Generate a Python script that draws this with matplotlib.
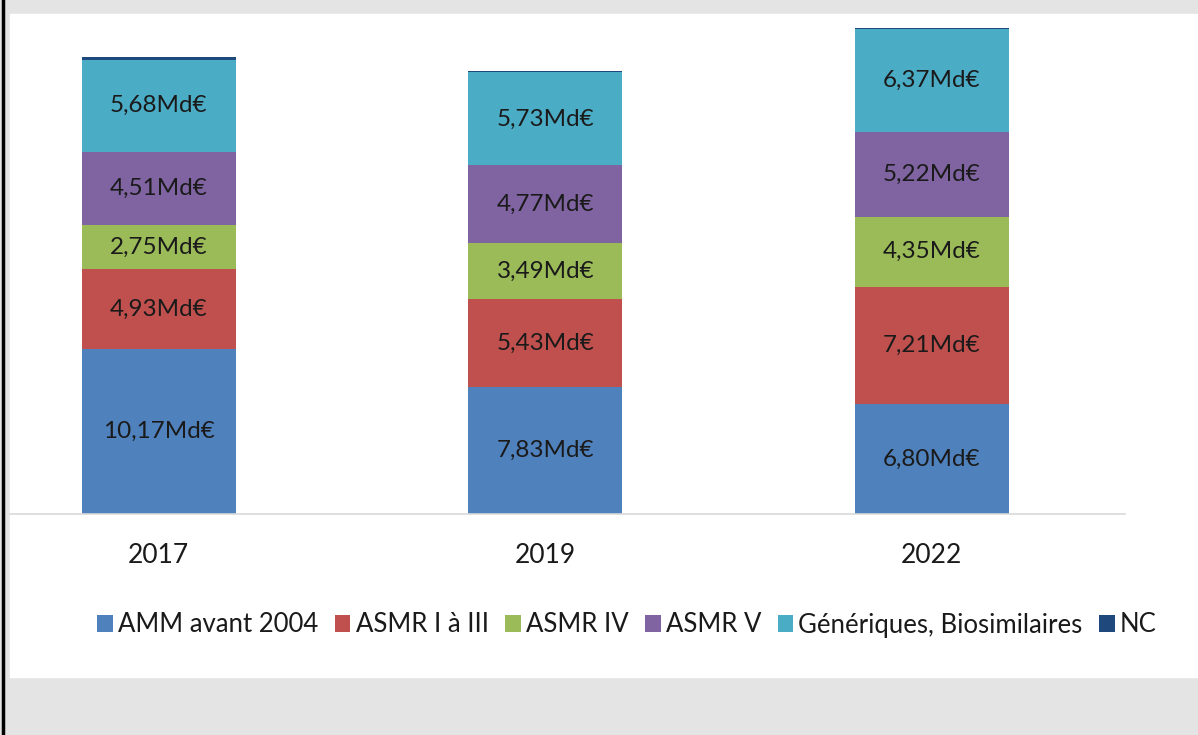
import matplotlib.pyplot as plt
import matplotlib.patches as mpatches
import numpy as np

years = ['2017', '2019', '2022']
series = ['AMM avant 2004', 'ASMR I à III', 'ASMR IV', 'ASMR V',
          'Génériques, Biosimilaires', 'NC']
amm = [10.17, 7.83, 6.80]
asmr_1_3 = [4.93, 5.43, 7.21]
asmr_4 = [2.75, 3.49, 4.35]
asmr_5 = [4.51, 4.77, 5.22]
generiques = [5.68, 5.73, 6.37]
nc = [0.15, 0.12, 0.04]

colours = ['#4F81BD', '#C0504D', '#9BBB59', '#8064A2', '#4BACC6', '#1F497D']
textColour = '#1a1a1a'

plt.rcParams['font.family'] = ['Lato', 'DejaVu Sans']

W, H = 1198, 735
fig = plt.figure(figsize=(W / 100, H / 100), dpi=100)
fig.set_facecolor('#e4e4e4')

# white panel and the black line at left
fig.patches.append(mpatches.Rectangle((10 / W, 1 - 677 / H), 1, (677 - 14) / H,
                                      transform=fig.transFigure, color='white', zorder=-5))
fig.add_artist(plt.Line2D([3 / W, 3 / W], [0, 1], transform=fig.transFigure,
                          color='black', linewidth=2.5))

ax = fig.add_axes([10 / W, 1 - 514 / H, 1115 / W, 500 / H])
ax.set_facecolor('none')
ax.set_zorder(2)

x = np.arange(len(years))
allSeries = [amm, asmr_1_3, asmr_4, asmr_5, generiques, nc]
bottom = np.zeros(len(years))
for i, vals in enumerate(allSeries):
    vals = np.array(vals)
    ax.bar(x, vals, 0.398, bottom=bottom, color=colours[i], label=series[i], zorder=2)
    if i < 5:
        for xi, b, v in zip(x, bottom, vals):
            ax.text(xi, b + v / 2, ('%.2f' % v).replace('.', ',') + 'Md€',
                    ha='center', va='center', fontsize=17.5, color=textColour, zorder=3)
    bottom += vals

ax.set_xlim(-0.385, 2.5)
ax.set_ylim(0, 30.86)
ax.set_xticks(x)
ax.set_xticklabels(years, fontsize=19, color=textColour)
ax.tick_params(axis='x', length=0, pad=21)
ax.set_yticks([])
for s in ['top', 'right', 'left']:
    ax.spines[s].set_visible(False)
ax.spines['bottom'].set_color('#d9d9d9')
ax.spines['bottom'].set_linewidth(1.2)

fig.legend(loc='center', bbox_to_anchor=(627 / W, 1 - 625 / H), ncol=6, frameon=False,
           fontsize=18.5, handlelength=0.6, handleheight=0.6, handletextpad=0.2,
           columnspacing=0.65, labelcolor=textColour)

fig.savefig('out.png', dpi=100, facecolor=fig.get_facecolor())
